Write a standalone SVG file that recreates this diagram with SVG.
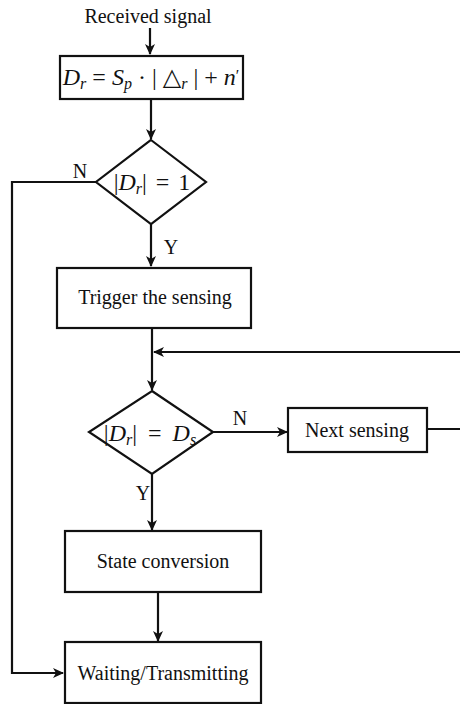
<svg xmlns="http://www.w3.org/2000/svg" width="460" height="704" viewBox="0 0 460 704">
<style>
.box{fill:#fff;stroke:#111;stroke-width:2.2}
.ln{fill:none;stroke:#111;stroke-width:2.2}
.t{font-family:"Liberation Serif","DejaVu Serif",serif;font-size:20px;fill:#111}
.m{font-family:"Liberation Serif","DejaVu Serif",serif;font-size:24px;fill:#111}
.i{font-style:italic}
.s{font-size:16px}
</style>
<defs>
<marker id="ah" markerWidth="12" markerHeight="10" refX="10" refY="5" orient="auto" markerUnits="userSpaceOnUse">
<path d="M0,0 L11,5 L0,10 L3,5 z" fill="#111"/>
</marker>
</defs>
<g id="connectors">
<path class="ln" d="M150,28 V54" marker-end="url(#ah)"/>
<path class="ln" d="M151,99 V139" marker-end="url(#ah)"/>
<path class="ln" d="M96,182 H12 V673 H63" marker-end="url(#ah)"/>
<path class="ln" d="M151,224 V266" marker-end="url(#ah)"/>
<path class="ln" d="M152,328 V390" marker-end="url(#ah)"/>
<path class="ln" d="M427,429 H463 V352 H154" marker-end="url(#ah)"/>
<path class="ln" d="M213,432 H287" marker-end="url(#ah)"/>
<path class="ln" d="M152,474 V530" marker-end="url(#ah)"/>
<path class="ln" d="M158,592 V641" marker-end="url(#ah)"/>
<text class="t" x="80" y="178" text-anchor="middle">N</text>
<text class="t" x="171" y="254" text-anchor="middle">Y</text>
<text class="t" x="240" y="425" text-anchor="middle">N</text>
<text class="t" x="143" y="500" text-anchor="middle">Y</text>
</g>
<g id="input">
<text class="t" x="148" y="23" text-anchor="middle">Received signal</text>
</g>
<g id="formula">
<rect class="box" x="60" y="56" width="183" height="43"/>
<text class="m" x="151" y="85" text-anchor="middle"><tspan class="i">D</tspan><tspan class="i s" dy="4">r</tspan><tspan dy="-4"> = </tspan><tspan class="i">S</tspan><tspan class="i s" dy="4">p</tspan><tspan dy="-4"> · | △</tspan><tspan class="i s" dy="4">r</tspan><tspan dy="-4"> | + </tspan><tspan class="i">n</tspan><tspan class="s" dy="-4">′</tspan></text>
</g>
<g id="decision1">
<polygon class="box" points="151,140 206,182 151,224 96,182"/>
<text class="m" x="152" y="190" text-anchor="middle" word-spacing="3">|<tspan class="i">D</tspan><tspan class="i s" dy="4">r</tspan><tspan dy="-4">| = 1</tspan></text>
</g>
<g id="trigger">
<rect class="box" x="57" y="268" width="194" height="60"/>
<text class="t" x="155" y="304" text-anchor="middle">Trigger the sensing</text>
</g>
<g id="decision2">
<polygon class="box" points="152,391 213,432 152,474 89,432"/>
<text class="m" x="150" y="441" text-anchor="middle" word-spacing="5">|<tspan class="i">D</tspan><tspan class="i s" dy="4">r</tspan><tspan dy="-4">| = </tspan><tspan class="i">D</tspan><tspan class="i s" dy="4">s</tspan></text>
</g>
<g id="next">
<rect class="box" x="288" y="408" width="139" height="44"/>
<text class="t" x="357" y="437" text-anchor="middle">Next sensing</text>
</g>
<g id="state">
<rect class="box" x="65" y="531" width="196" height="61"/>
<text class="t" x="163" y="568" text-anchor="middle">State conversion</text>
</g>
<g id="waiting">
<rect class="box" x="65" y="642" width="196" height="61"/>
<text class="t" x="163" y="680" text-anchor="middle">Waiting/Transmitting</text>
</g>
</svg>
